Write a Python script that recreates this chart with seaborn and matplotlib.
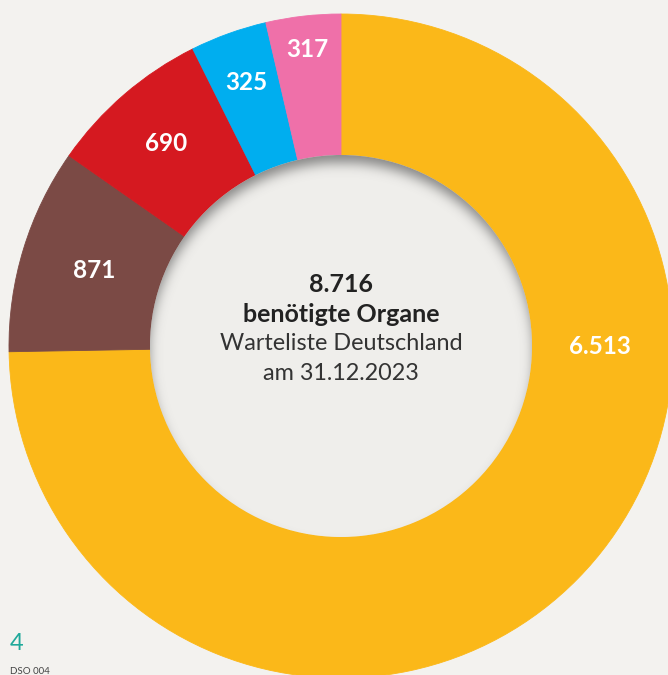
import numpy as np
import seaborn as sns
import matplotlib
matplotlib.use("Agg")
import matplotlib.pyplot as plt
from matplotlib.patches import Circle

sns.set_theme(style="white")
plt.rcParams['font.family'] = ['Lato', 'DejaVu Sans']

# waiting list Germany, 31.12.2023
organs = ["Niere", "Leber", "Herz", "Lunge", "Pankreas"]
counts = [6513, 871, 690, 325, 317]
count_labels = ["6.513", "871", "690", "325", "317"]
total_label = "8.716"

BG = "#F3F2EF"
HOLE = "#EFEEEB"
palette = ["#FBB819", "#7B4A45", "#D51920", "#00AEEF", "#EF70A9"]

fig = plt.figure(figsize=(6.68, 6.75), dpi=100, facecolor=BG)
ax = fig.add_axes([0, 0, 1, 1])
ax.set_facecolor(BG)

cx, cy = 341, 329
R, r_in = 332, 191

wedges, _ = ax.pie(counts, colors=palette, startangle=90, counterclock=False,
                   center=(cx, cy), radius=R,
                   wedgeprops=dict(width=R - r_in, linewidth=0.6))
for w, c in zip(wedges, palette):
    w.set_edgecolor(c)
ax.set_xlim(0, 668)
ax.set_ylim(0, 675)
ax.set_aspect('equal')
ax.axis('off')

# hole
hole = Circle((cx, cy), r_in, fc=HOLE, ec='none', zorder=3)
ax.add_patch(hole)

# inset shadow at the top of the hole
pad = 30
xs = np.arange(cx - r_in - pad, cx + r_in + pad, 1.0)
ys = np.arange(cy - r_in - pad, cy + r_in + pad, 1.0)
X, Y = np.meshgrid(xs, ys)
off = 10
lit = ((X - cx) ** 2 + (Y - (cy - off)) ** 2) <= (r_in + 2) ** 2
mask = (~lit).astype(float)
sig = 6.0
k = np.arange(-20, 21)
kern = np.exp(-k ** 2 / (2 * sig ** 2))
kern /= kern.sum()
blur = np.apply_along_axis(lambda m: np.convolve(m, kern, mode='same'), 0, mask)
blur = np.apply_along_axis(lambda m: np.convolve(m, kern, mode='same'), 1, blur)
rgba = np.zeros(X.shape + (4,))
rgba[..., :3] = 0.33
rgba[..., 3] = np.clip(blur, 0, 1) * 0.68
im = ax.imshow(rgba, extent=(xs[0] - 0.5, xs[-1] + 0.5, ys[0] - 0.5, ys[-1] + 0.5),
               origin='lower', zorder=4, interpolation='bilinear')
im.set_clip_path(hole)

# value labels in the ring
label_r = [259, 258, 268, 280, 298]
for i, (w, lab) in enumerate(zip(wedges, count_labels)):
    ang = 0.0 if i == 0 else (w.theta1 + w.theta2) / 2
    a = np.deg2rad(ang)
    ax.text(cx + label_r[i] * np.cos(a), cy + label_r[i] * np.sin(a), lab,
            ha='center', va='center', color='white', fontsize=17.5,
            fontweight='bold', zorder=5)

# centre text
ax.text(cx, 675 - 285, total_label, ha='center', va='center', fontsize=18,
        fontweight='bold', color='#222222', zorder=5)
ax.text(cx, 675 - 315, "benötigte Organe", ha='center', va='center', fontsize=18,
        fontweight='bold', color='#222222', zorder=5)
ax.text(cx, 675 - 344, "Warteliste Deutschland", ha='center', va='center',
        fontsize=16.8, fontweight='normal', color='#333333', zorder=5)
ax.text(cx, 675 - 373, "am 31.12.2023", ha='center', va='center',
        fontsize=16.8, fontweight='normal', color='#333333', zorder=5)

# page marks
ax.text(10, 675 - 644, "4", ha='left', va='center', fontsize=17,
        fontweight='normal', color='#1FA99A', zorder=5)
ax.text(10, 1, "DSO 004", ha='left', va='baseline', fontsize=7,
        color='#444444', zorder=5)

fig.savefig("out.png", dpi=100, facecolor=BG)
